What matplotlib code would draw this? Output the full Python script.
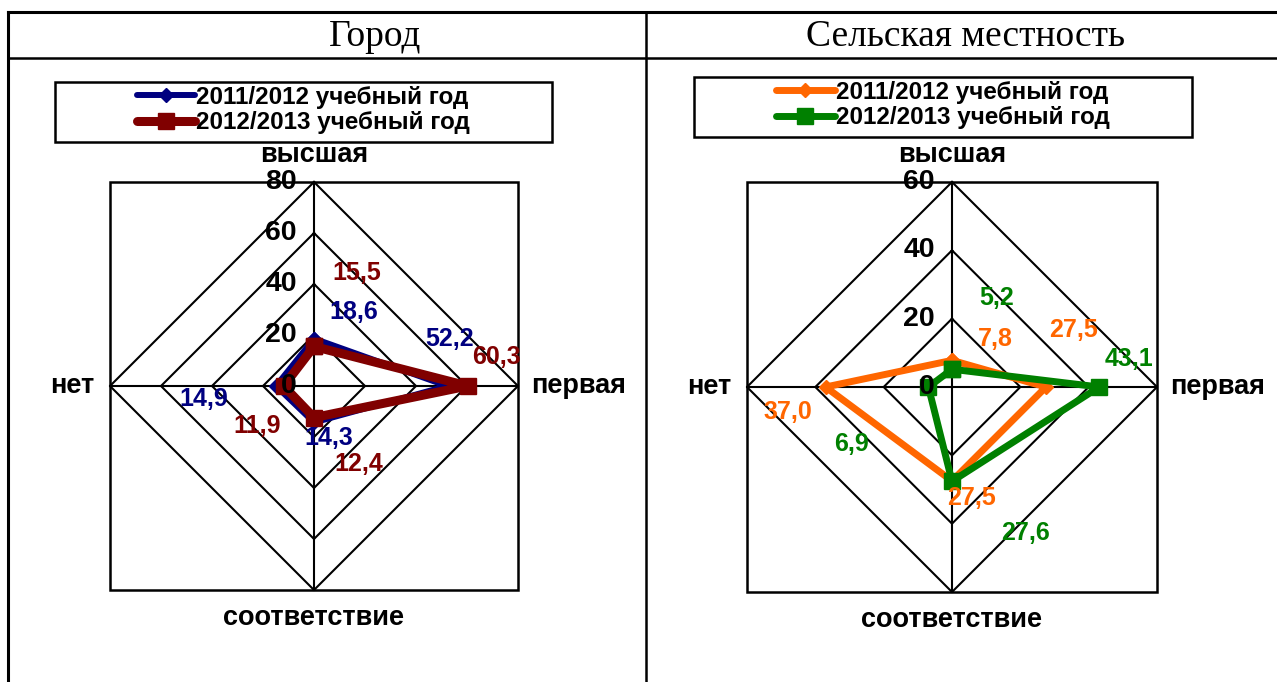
import numpy as np
import matplotlib
matplotlib.use("Agg")
import matplotlib.pyplot as plt
from matplotlib.patches import Rectangle
from matplotlib.lines import Line2D

# ---------------- data ----------------
categories = ["высшая", "первая", "соответствие", "нет"]
series_names = ["2011/2012 учебный год", "2012/2013 учебный год"]

city_2011 = [18.6, 52.2, 14.3, 14.9]
city_2012 = [15.5, 60.3, 12.4, 11.9]
rural_2011 = [7.8, 27.5, 27.5, 37.0]
rural_2012 = [5.2, 43.1, 27.6, 6.9]

city_ticks = [0, 20, 40, 60, 80]
rural_ticks = [0, 20, 40, 60]

titles = ["Город", "Сельская местность"]

# ---------------- style ----------------
SANS = "Liberation Sans"
SERIF = "Liberation Serif"
W, H = 1277, 682
fig = plt.figure(figsize=(W / 100, H / 100), dpi=100)


def fx(px):
    return px / W


def fy(py):
    return 1 - py / H


# table lines
tl = dict(color="black", transform=fig.transFigure)
fig.add_artist(Line2D([fx(8), 1], [fy(12), fy(12)], lw=2.2, **tl))
fig.add_artist(Line2D([fx(8), 1], [fy(58), fy(58)], lw=1.8, **tl))
fig.add_artist(Line2D([fx(8), fx(8)], [fy(12), 0], lw=2.2, **tl))
fig.add_artist(Line2D([fx(646), fx(646)], [fy(12), 0], lw=1.8, **tl))

fig.text(fx(375), fy(37), titles[0], family=SERIF, fontsize=27,
         ha="center", va="center")
fig.text(fx(966), fy(37), titles[1], family=SERIF, fontsize=27,
         ha="center", va="center")

angles = np.arange(len(categories)) * 2 * np.pi / len(categories)

# label offsets (pixels) relative to each data point
city_offsets = [
    [(40, 27), (2, 47), (15, -16), (-72, -13)],
    [(43, 73), (29, 29), (45, -46), (-27, -40)],
]
rural_offsets = [
    [(43, 21), (28, 57), (19, -17), (-38, -25)],
    [(45, 71), (30, 28), (73, -52), (-77, -57)],
]


def radar(rect, values, colors, markers, msizes, lws, ticks, offsets,
          legend_rect):
    ax = fig.add_axes(rect, projection="polar")
    ax.set_theta_zero_location("N")
    ax.set_theta_direction(-1)
    rmax = ticks[-1]
    ax.set_ylim(0, rmax)
    ax.grid(False)
    ax.set_xticks([])
    ax.set_yticks([])
    ax.spines["polar"].set_visible(False)
    ax.patch.set_alpha(0)

    # square plot-area box
    ax.add_patch(Rectangle((0, 0), 1, 1, transform=ax.transAxes, fill=False,
                           ec="black", lw=1.8, clip_on=False, zorder=1))
    closed = np.concatenate([angles, angles[:1]])
    for r in ticks[1:]:
        ax.plot(closed, [r] * len(closed), color="black", lw=1.5, zorder=2,
                clip_on=False)
    for a in angles:
        ax.plot([a, a], [0, rmax], color="black", lw=1.5, zorder=2,
                clip_on=False)

    # tick labels
    for t in ticks:
        ax.annotate(str(t), xy=(0, t), xytext=(-17, 0),
                    textcoords="offset pixels", ha="right", va="center",
                    family=SANS, weight="bold", fontsize=20.5, zorder=6,
                    annotation_clip=False)

    # category labels
    cat_off = [(0, 27, "center", "center"), (13, 0, "left", "center"),
               (0, -28, "center", "center"), (-16, 0, "right", "center")]
    for a, name, (dx, dy, ha, va) in zip(angles, categories, cat_off):
        ax.annotate(name, xy=(a, rmax), xytext=(dx, dy),
                    textcoords="offset pixels", ha=ha, va=va, family=SANS,
                    weight="bold", fontsize=19.5, annotation_clip=False)

    handles = []
    for vals, c, m, ms, lw, offs, nm in zip(values, colors, markers, msizes,
                                            lws, offsets, series_names):
        v = list(vals) + [vals[0]]
        h, = ax.plot(closed, v, color=c, lw=lw, marker=m, ms=ms, zorder=4,
                     solid_joinstyle="round", solid_capstyle="round",
                     clip_on=False, label=nm)
        handles.append(h)
        for a, val, (dx, dy) in zip(angles, vals, offs):
            ax.annotate(f"{val:.1f}".replace(".", ","), xy=(a, val),
                        xytext=(dx, dy), textcoords="offset pixels",
                        ha="center", va="center", color=c, family=SANS,
                        weight="bold", fontsize=18, zorder=5,
                        annotation_clip=False)

    # legend box + legend
    x0, y0, x1, y1 = legend_rect
    fig.add_artist(Rectangle((fx(x0), fy(y1)), fx(x1) - fx(x0),
                             fy(y0) - fy(y1), transform=fig.transFigure,
                             fill=False, ec="black", lw=1.8))
    fig.legend(handles=handles, loc="center",
               bbox_to_anchor=(fx((x0 + x1) / 2), fy((y0 + y1) / 2 - 2)),
               bbox_transform=fig.transFigure, frameon=False,
               prop=dict(family=SANS, weight="bold", size=17.5),
               handlelength=2.4, handletextpad=0.05, labelspacing=0.1,
               borderpad=0, markerscale=1.0)
    return ax


radar([fx(108), fy(590), fx(520) - fx(108), fy(182) - fy(590)],
      [city_2011, city_2012], ["#000080", "#800000"], ["D", "s"], [7, 11.5],
      [4.3, 6.5], city_ticks, city_offsets, (55, 82, 552, 142))

radar([fx(746), fy(592), fx(1158) - fx(746), fy(182) - fy(592)],
      [rural_2011, rural_2012], ["#FF6600", "#008000"], ["D", "s"], [7, 11],
      [5, 5], rural_ticks, rural_offsets, (694, 77, 1192, 137))

fig.savefig("out.png", dpi=100)
